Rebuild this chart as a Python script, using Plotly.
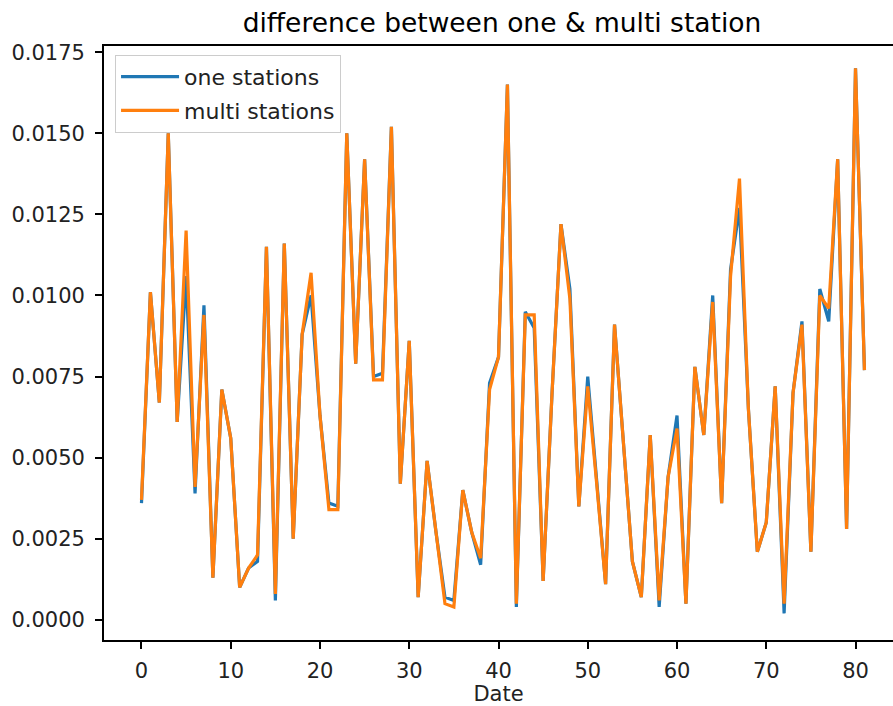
import plotly.graph_objects as go

x_index = list(range(82))

one_stations = [
    0.0036, 0.0101, 0.0067, 0.0150, 0.0061, 0.0106, 0.0039, 0.0097, 0.0013, 0.0071,  # 0-9
    0.0056, 0.0010, 0.0016, 0.0018, 0.0115, 0.0006, 0.0116, 0.0025, 0.0088, 0.0100,  # 10-19
    0.0063, 0.0036, 0.0035, 0.0150, 0.0079, 0.0142, 0.0075, 0.0076, 0.0152, 0.0042,  # 20-29
    0.0086, 0.0007, 0.0049, 0.0027, 0.0007, 0.0006, 0.0040, 0.0027, 0.0017, 0.0073,  # 30-39
    0.0081, 0.0165, 0.0004, 0.0095, 0.0090, 0.0012, 0.0070, 0.0122, 0.0102, 0.0035,  # 40-49
    0.0075, 0.0042, 0.0011, 0.0091, 0.0054, 0.0018, 0.0007, 0.0057, 0.0004, 0.0044,  # 50-59
    0.0063, 0.0005, 0.0078, 0.0057, 0.0100, 0.0036, 0.0108, 0.0127, 0.0065, 0.0021,  # 60-69
    0.0030, 0.0072, 0.0002, 0.0070, 0.0092, 0.0021, 0.0102, 0.0092, 0.0142, 0.0028,  # 70-79
    0.0170, 0.0077,                                                                  # 80-81
]

multi_stations = [
    0.0037, 0.0101, 0.0067, 0.0150, 0.0061, 0.0120, 0.0041, 0.0094, 0.0013, 0.0071,
    0.0056, 0.0010, 0.0016, 0.0020, 0.0115, 0.0008, 0.0116, 0.0025, 0.0088, 0.0107,
    0.0063, 0.0034, 0.0034, 0.0150, 0.0079, 0.0142, 0.0074, 0.0074, 0.0152, 0.0042,
    0.0086, 0.0007, 0.0049, 0.0027, 0.0005, 0.0004, 0.0040, 0.0027, 0.0019, 0.0071,
    0.0081, 0.0165, 0.0005, 0.0094, 0.0094, 0.0012, 0.0070, 0.0122, 0.0099, 0.0035,
    0.0072, 0.0042, 0.0011, 0.0091, 0.0054, 0.0018, 0.0007, 0.0057, 0.0006, 0.0044,
    0.0059, 0.0005, 0.0078, 0.0057, 0.0098, 0.0036, 0.0106, 0.0136, 0.0065, 0.0021,
    0.0030, 0.0072, 0.0005, 0.0070, 0.0091, 0.0021, 0.0100, 0.0096, 0.0142, 0.0028,
    0.0170, 0.0077,
]

x_ticks = [0, 10, 20, 30, 40, 50, 60, 70, 80]
y_ticks = [0.0, 0.0025, 0.005, 0.0075, 0.01, 0.0125, 0.015, 0.0175]

FONT = "DejaVu Sans"
TICK_SIZE = 21
FIG_W, FIG_H = 893, 706

fig = go.Figure()
fig.add_trace(go.Scatter(x=x_index, y=one_stations, mode="lines", name="one stations",
                         legendgroup="a", line=dict(color="#1f77b4", width=3.2)))
fig.add_trace(go.Scatter(x=x_index, y=multi_stations, mode="lines", name="multi stations",
                         legendgroup="b", line=dict(color="#ff7f0e", width=3.2)))

fig.update_layout(
    width=FIG_W, height=FIG_H,
    margin=dict(l=104, r=0, t=46, b=66),
    paper_bgcolor="white", plot_bgcolor="white",
    font=dict(family=FONT, size=TICK_SIZE, color="black"),
    title=dict(text="difference between one & multi station", font=dict(family=FONT, size=26.5, color="black"),
               xref="container", x=502 / FIG_W, xanchor="center",
               yref="container", y=1 - 23 / FIG_H, yanchor="middle"),
    legend=dict(x=0.014, y=0.985, xanchor="left", yanchor="top",
                bgcolor="rgba(255,255,255,0.8)", bordercolor="#cccccc", borderwidth=1,
                font=dict(family=FONT, size=22, color="#222222"), tracegroupgap=2,
                itemwidth=58),
    showlegend=True,
)

fig.update_xaxes(range=[-4.2, 84.2], tickvals=x_ticks, ticktext=[str(v) for v in x_ticks],
                 automargin=False,
                 showgrid=False, zeroline=False, showline=True, linecolor="black", linewidth=1.7,
                 mirror=True, ticks="outside", ticklen=7, tickwidth=1.7, tickcolor="black",
                 ticklabelstandoff=4,
                 tickfont=dict(family=FONT, size=TICK_SIZE, color="#222222"),
                 title=dict(text="Date", font=dict(family=FONT, size=TICK_SIZE, color="#222222"), standoff=8))
fig.update_yaxes(range=[-0.00062, 0.01769], tickvals=y_ticks, ticktext=[f"{v:.4f}" for v in y_ticks],
                 automargin=False,
                 showgrid=False, zeroline=False, showline=True, linecolor="black", linewidth=1.7,
                 mirror=False, ticks="outside", ticklen=7, tickwidth=1.7, tickcolor="black",
                 ticklabelstandoff=6,
                 tickfont=dict(family=FONT, size=TICK_SIZE, color="#222222"))

fig.write_html("out.html", config={"displayModeBar": False},
               post_script="document.body.style.margin='0';document.body.style.overflow='hidden';")
